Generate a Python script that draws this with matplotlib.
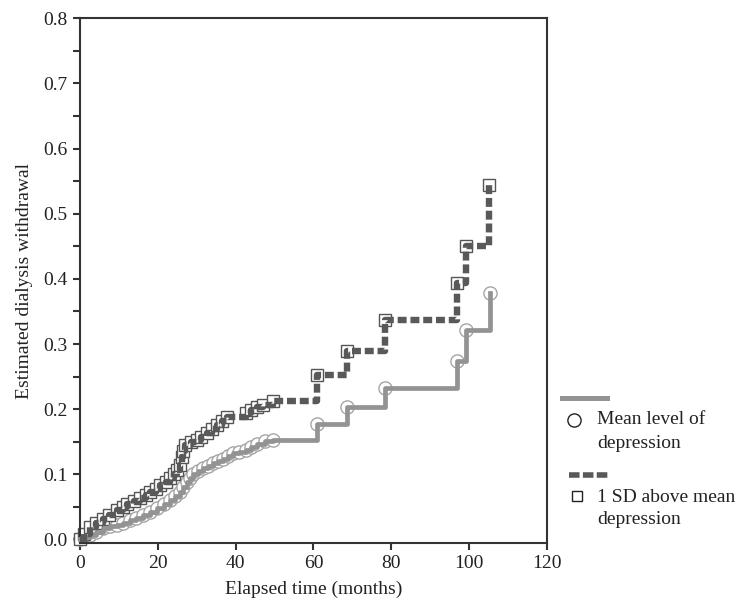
import matplotlib
matplotlib.use("Agg")
import matplotlib.pyplot as plt
from matplotlib.lines import Line2D
from matplotlib.ticker import MultipleLocator

plt.rcParams['font.family'] = ['Liberation Serif', 'DejaVu Serif']

# Mean level of depression (time in months, estimated cumulative withdrawal)
t_mean = [0, 1, 2.6, 4.2, 6, 7.7, 9.4, 11, 12.9, 14.5, 16.3, 18, 19.7, 21.5, 23.1,
          24.5, 25.7, 26.6, 27.4, 28.3, 29.1, 30.4, 31.7, 33, 34.3, 35.5, 36.8, 38,
          39.4, 41, 42.8, 44, 45.4, 47.5, 49.7, 61.0, 68.6, 78.4, 96.8, 99.3, 105.4]
v_mean = [0, 0.003, 0.007, 0.012, 0.017, 0.020, 0.022, 0.026, 0.030, 0.033, 0.037,
          0.042, 0.048, 0.054, 0.060, 0.066, 0.073, 0.080, 0.088, 0.095, 0.101, 0.105,
          0.109, 0.113, 0.117, 0.120, 0.124, 0.128, 0.132, 0.134, 0.137, 0.142, 0.147,
          0.151, 0.153, 0.178, 0.204, 0.233, 0.274, 0.321, 0.378]

# 1 SD above mean depression
t_sd = [0, 1, 2.6, 4, 6, 7.5, 9.4, 11, 12, 14, 15.4, 17, 18, 19.5, 20.6, 22, 23.1,
        24.2, 24.9, 25.6, 26.1, 26.6, 27, 28.5, 30, 31.2, 32.6, 34, 35.1, 36.5, 37.7,
        42.8, 44, 45.4, 47, 49.7, 60.8, 68.7, 78.4, 96.8, 99.2, 105.2]
v_sd = [0, 0.008, 0.019, 0.025, 0.032, 0.038, 0.045, 0.050, 0.055, 0.059, 0.063,
        0.068, 0.073, 0.078, 0.083, 0.088, 0.094, 0.100, 0.106, 0.115, 0.127, 0.136,
        0.145, 0.149, 0.153, 0.158, 0.163, 0.170, 0.176, 0.182, 0.188, 0.194, 0.199,
        0.204, 0.207, 0.213, 0.252, 0.290, 0.337, 0.394, 0.451, 0.544]

c_mean = '#939393'
c_sd = '#595959'
txt = '#222222'
fs = 14

fig = plt.figure(figsize=(7.44, 6.02), dpi=100)
ax = fig.add_axes([0.1075, 0.0985, 0.6275, 0.871])

# markers first, lines drawn over them
ax.plot(t_mean, v_mean, 'o', ms=9.5, mfc='white', mec='#a5a5a5', mew=1.0,
        zorder=2, clip_on=False)
ax.plot(t_sd, v_sd, 's', ms=8, mfc='white', mec='#555555', mew=1.0,
        zorder=2, clip_on=False)
ax.plot(t_mean, v_mean, drawstyle='steps-post', color=c_mean, lw=3.4,
        zorder=3, clip_on=False)
ax.plot(t_sd, v_sd, drawstyle='steps-post', color=c_sd, lw=4.6,
        dashes=(1.4, 0.6), zorder=4, clip_on=False)

ax.set_xlim(0, 120)
ax.set_ylim(-0.005, 0.8)
ax.xaxis.set_major_locator(MultipleLocator(20))
ax.yaxis.set_major_locator(MultipleLocator(0.1))
ax.yaxis.set_minor_locator(MultipleLocator(0.05))
ax.yaxis.set_major_formatter(plt.FuncFormatter(lambda v, p: f'{v:.1f}'))
ax.tick_params(axis='both', which='both', direction='out', length=5, width=1.5,
               color='#333333', labelsize=fs, labelcolor=txt)
ax.tick_params(axis='both', which='major', pad=4)
for s in ax.spines.values():
    s.set_color('#333333')
    s.set_linewidth(1.5)

ax.set_xlabel('Elapsed time (months)', fontsize=fs, color=txt, labelpad=6)
ax.set_ylabel('Estimated dialysis withdrawal', fontsize=fs, color=txt, labelpad=7)

# legend outside the axes, built by hand
W, H = 744.0, 602.0
def fx(px):
    return px / W
def fy(py):
    return 1 - py / H

fig.add_artist(Line2D([fx(562), fx(607)], [fy(398), fy(398)], color=c_mean, lw=3.6,
                      transform=fig.transFigure))
fig.add_artist(Line2D([fx(574)], [fy(420)], marker='o', ms=9.5, mfc='white',
                      mec='#222222', mew=1.0, transform=fig.transFigure))
fig.text(fx(597), fy(420), 'Mean level of', fontsize=fs, va='center', color=txt)
fig.text(fx(597), fy(443), 'depression', fontsize=fs, va='center', color=txt)

fig.add_artist(Line2D([fx(569), fx(608)], [fy(475), fy(475)], color=c_sd, lw=4.0,
                      dashes=(1.9, 0.6), transform=fig.transFigure))
fig.add_artist(Line2D([fx(577)], [fy(496)], marker='s', ms=7, mfc='white',
                      mec='#222222', mew=1.0, transform=fig.transFigure))
fig.text(fx(597), fy(497), '1 SD above mean', fontsize=fs, va='center', color=txt)
fig.text(fx(597), fy(520), 'depression', fontsize=fs, va='center', color=txt)

fig.savefig('out.png', dpi=100)
